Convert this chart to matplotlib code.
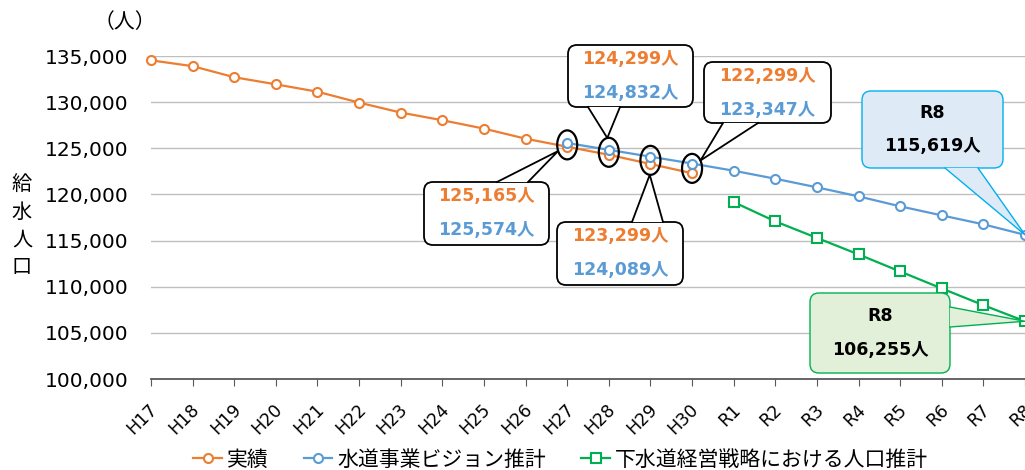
import matplotlib
matplotlib.use('Agg')
import matplotlib.pyplot as plt
import matplotlib.transforms as mtransforms
from matplotlib.patches import FancyBboxPatch, Polygon, Ellipse
from matplotlib.lines import Line2D
import numpy as np

plt.rcParams['font.family'] = ['DejaVu Sans', 'Noto Sans CJK JP']

# ---------------- data ----------------
categories = ['H17', 'H18', 'H19', 'H20', 'H21', 'H22', 'H23', 'H24', 'H25', 'H26',
              'H27', 'H28', 'H29', 'H30', 'R1', 'R2', 'R3', 'R4', 'R5', 'R6', 'R7', 'R8']
actual_name = '実績'
actual_start = 'H17'
actual = [134530, 133900, 132700, 131930, 131130, 129950, 128870, 128040, 127130,
          126040, 125165, 124299, 123299, 122299]
vision_name = '水道事業ビジョン推計'
vision_start = 'H27'
vision = [125574, 124832, 124089, 123347, 122570, 121700, 120770, 119790, 118710,
          117730, 116760, 115619]
sewer_name = '下水道経営戦略における人口推計'
sewer_start = 'R1'
sewer = [119170, 117080, 115290, 113500, 111650, 109810, 108000, 106255]
y_ticks = [100000, 105000, 110000, 115000, 120000, 125000, 130000, 135000]
compare_years = ['H27', 'H28', 'H29', 'H30']

ORANGE = '#ED7D31'
BLUE = '#5B9BD5'
GREEN = '#00B050'

W, H = 1025, 470
fig = plt.figure(figsize=(W / 100, H / 100), dpi=100)
ax = fig.add_axes([151 / W, 1 - 379 / H, 874 / W, (379 - 56) / H])

def xs_for(start, vals):
    i0 = categories.index(start)
    return list(range(i0, i0 + len(vals)))

line_kw = dict(lw=1.6, markersize=6.5, markerfacecolor='white', markeredgewidth=1.5,
               clip_on=False, zorder=3)
ax.plot(xs_for(actual_start, actual), actual, color=ORANGE, marker='o', label=actual_name, **line_kw)
ax.plot(xs_for(vision_start, vision), vision, color=BLUE, marker='o', label=vision_name, **line_kw)
ax.plot(xs_for(sewer_start, sewer), sewer, color=GREEN, marker='s', label=sewer_name, **line_kw)

ax.set_xlim(0, len(categories) - 1)
ax.set_ylim(y_ticks[0], y_ticks[-1])
ax.set_yticks(y_ticks)
ax.set_yticklabels([f'{v:,}' for v in y_ticks], fontsize=14.5)
ax.set_xticks(range(len(categories)))
ax.set_xticklabels(categories, fontsize=12.5, rotation=45, ha='right', va='center',
                   rotation_mode='anchor')
ax.tick_params(axis='y', length=0, pad=16)
ax.tick_params(axis='x', length=5, color='#595959', pad=15)
for s in ['left', 'right', 'top']:
    ax.spines[s].set_visible(False)
ax.spines['bottom'].set_color('#595959')
ax.spines['bottom'].set_linewidth(1.3)
ax.grid(axis='y', color='#BFBFBF', lw=1.0)
ax.set_axisbelow(True)
# nudge x tick labels slightly right
off = mtransforms.ScaledTranslation(4 / 100, 0, fig.dpi_scale_trans)
for lab in ax.get_xticklabels():
    lab.set_transform(lab.get_transform() + off)

# pixel (top-left origin) transform
T = mtransforms.Affine2D().scale(1 / W, -1 / H).translate(0, 1) + fig.transFigure

def data_px(xi, yv):
    d = ax.transData.transform((xi, yv))
    dfig = fig.transFigure.inverted().transform(d)
    return dfig[0] * W, (1 - dfig[1]) * H

# axis titles
fig.text(125 / W, 1 - 22 / H, '（人）', fontsize=15, ha='center', va='center',
         family=['Noto Sans CJK JP'])
for i, ch in enumerate('給水人口'):
    fig.text(22 / W, 1 - (184 + i * 28) / H, ch, fontsize=14.5, ha='center', va='center',
             family=['Noto Sans CJK JP'])

# legend
ax.legend(loc='center', bbox_to_anchor=(0.547, 0.022), bbox_transform=fig.transFigure,
          ncol=3, frameon=False, fontsize=15, handlelength=1.35, handletextpad=0.25,
          columnspacing=1.7, borderaxespad=0, borderpad=0)

def callout(box, base1, base2, tip, face, edge, texts, lw=1.3):
    x0, y0, x1, y1 = box
    p = FancyBboxPatch((x0, y0), x1 - x0, y1 - y0,
                       boxstyle='round,pad=0,rounding_size=9', transform=T,
                       facecolor=face, edgecolor=edge, lw=lw, zorder=10)
    fig.add_artist(p)
    poly = Polygon([base1, tip, base2], closed=True, transform=T, facecolor=face,
                   edgecolor='none', zorder=11)
    fig.add_artist(poly)
    ln = Line2D([base1[0], tip[0], base2[0]], [base1[1], tip[1], base2[1]],
                transform=T, color=edge, lw=lw, zorder=12)
    fig.add_artist(ln)
    cx = (x0 + x1) / 2
    cy = (y0 + y1) / 2
    n = len(texts)
    for k, (s, c) in enumerate(texts):
        yy = cy + (k - (n - 1) / 2) * 34
        fig.text(cx / W, 1 - yy / H, s, color=c, fontsize=12.5, fontweight='bold',
                 ha='center', va='center', zorder=13)

# ellipses around comparison points
ell_w, ell_h = 20, 29
ell_centers = {}
for yr in compare_years:
    xi = categories.index(yr)
    a = actual[xi - categories.index(actual_start)]
    v = vision[xi - categories.index(vision_start)]
    pa = data_px(xi, a)
    pv = data_px(xi, v)
    c = ((pa[0] + pv[0]) / 2, (pa[1] + pv[1]) / 2)
    ell_centers[yr] = c
    e = Ellipse(c, ell_w, ell_h, transform=T, fill=False, edgecolor='black', lw=1.6,
                zorder=9)
    fig.add_artist(e)

def ell_point(yr, target):
    cx, cy = ell_centers[yr]
    dx, dy = target[0] - cx, target[1] - cy
    ang = np.arctan2(dy / (ell_h / 2), dx / (ell_w / 2))
    return (cx + ell_w / 2 * np.cos(ang), cy + ell_h / 2 * np.sin(ang))

# layout of comparison callouts: box (x0,y0,x1,y1), tail base points on box edge
callout_layout = {
    'H27': ((424, 182, 549, 245), (497, 182), (528, 182)),
    'H28': ((568, 45, 693, 107), (588, 107), (620, 107)),
    'H29': ((557, 222, 683, 285), (632, 222), (663, 222)),
    'H30': ((704, 62, 831, 123), (723, 123), (758, 123)),
}
for yr in compare_years:
    box, b1, b2 = callout_layout[yr]
    mid = ((b1[0] + b2[0]) / 2, (b1[1] + b2[1]) / 2)
    tip = ell_point(yr, mid)
    xi = categories.index(yr)
    a = actual[xi - categories.index(actual_start)]
    v = vision[xi - categories.index(vision_start)]
    callout(box, b1, b2, tip, 'white', 'black',
            [(f'{a:,}人', ORANGE), (f'{v:,}人', BLUE)])

# R8 callouts
xr8 = categories.index('R8')
tip_v = data_px(xr8, vision[-1])
callout((862, 91, 1003, 168), (945, 168), (978, 168), tip_v, '#DEEBF7', '#00B0F0',
        [('R8', 'black'), (f'{vision[-1]:,}人', 'black')], lw=1.0)
tip_s = data_px(xr8, sewer[-1])
callout((810, 293, 950, 373), (950, 307), (950, 327), tip_s, '#E2F0D9', GREEN,
        [('R8', 'black'), (f'{sewer[-1]:,}人', 'black')], lw=1.0)

fig.savefig('out.png', dpi=100)
